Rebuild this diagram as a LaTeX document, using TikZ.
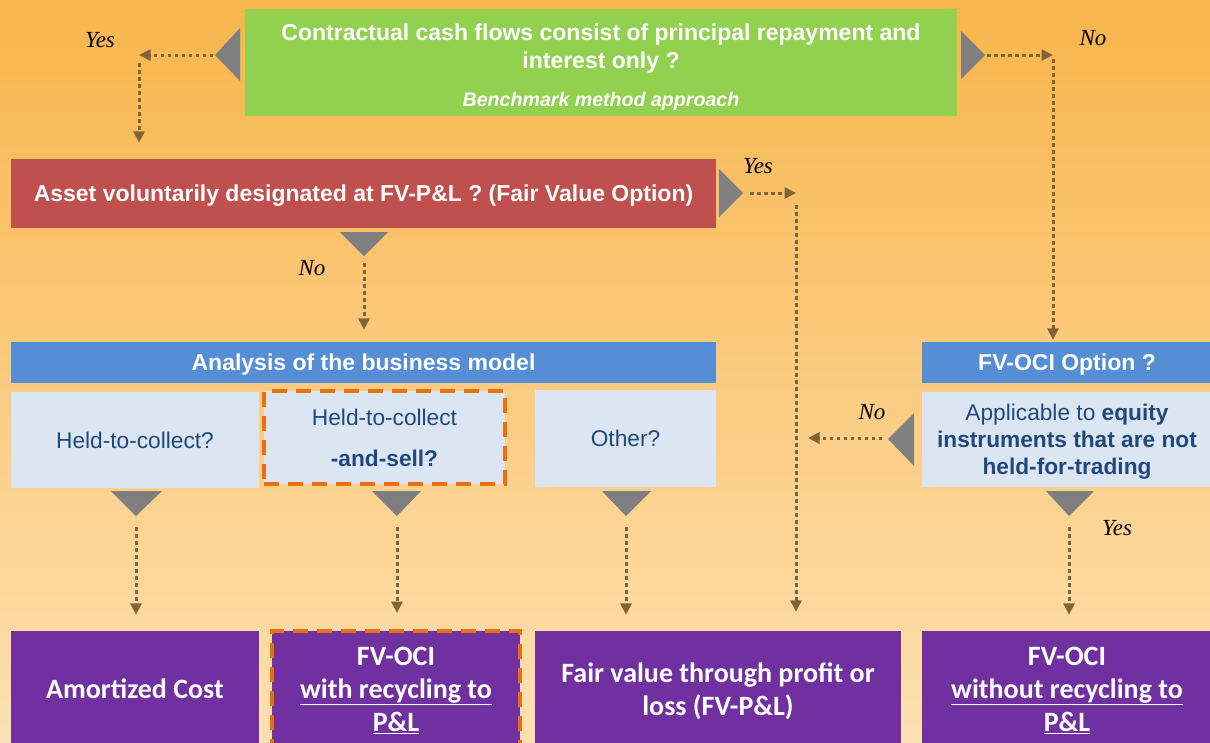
\documentclass[tikz,border=0pt]{standalone}
\usepackage{fontspec}
\setmainfont{Liberation Sans}
\newfontfamily\calibri{Carlito}
\newfontfamily\timesfont{Liberation Serif}
\usepackage{tikz}
\usetikzlibrary{shapes,arrows,arrows.meta}
\definecolor{bgtop}{HTML}{F8B54B}
\definecolor{bgbottom}{HTML}{FDE0B2}
\definecolor{leafgreen}{HTML}{92D050}
\definecolor{brickred}{HTML}{C0504D}
\definecolor{headblue}{HTML}{558ED5}
\definecolor{paleblue}{HTML}{DCE6F2}
\definecolor{navytext}{HTML}{1F497D}
\definecolor{deeppurple}{HTML}{7030A0}
\definecolor{hiorange}{HTML}{E8700F}
\definecolor{trigray}{HTML}{7F7F7F}
\definecolor{linkbrown}{HTML}{7F6438}
\tikzstyle{block} = [rectangle, inner sep=0pt, align=center, text=white, text depth=0pt, font=\fontsize{23}{28}\selectfont\bfseries]
\tikzstyle{head} = [block, fill=headblue, minimum height=41pt]
\tikzstyle{choice} = [rectangle, inner sep=0pt, align=center, fill=paleblue, text=navytext, text depth=0pt, font=\fontsize{22.7}{27}\selectfont]
\tikzstyle{result} = [rectangle, inner sep=0pt, align=center, fill=deeppurple, text=white, text depth=0pt, minimum height=116pt, font=\calibri\fontsize{28}{33}\selectfont\bfseries]
\tikzstyle{focus} = [draw=hiorange, line width=4pt, dash pattern=on 15pt off 9pt]
\tikzstyle{tri} = [fill=trigray]
\tikzstyle{line} = [draw=linkbrown, line width=3pt, dash pattern=on 3.5pt off 3.5pt, -{Triangle[length=11.5pt,width=11pt]}]
\tikzstyle{answer} = [inner sep=0pt, font=\timesfont\itshape\fontsize{23}{26}\selectfont]

\begin{document}
\begin{tikzpicture}[x=1pt, y=-1pt]
  \useasboundingbox (0,0) rectangle (1210,742);
  \clip (0,0) rectangle (1210,742);
  \shade[top color=bgtop, bottom color=bgbottom] (0,0) rectangle (1210,742);

  % questions
  \node [block, fill=leafgreen, minimum width=712pt, minimum height=107pt] (cashflow) at (601,62.5)
    {\rule{0pt}{21pt}Contractual cash flows consist of principal repayment and\\interest only ?\\[10pt]{\fontsize{19.6}{22}\selectfont\itshape Benchmark method approach}};
  \node [block, fill=brickred, minimum width=705pt, minimum height=69pt] (fvo) at (363.5,193.5)
    {Asset voluntarily designated at FV-P\&L ? (Fair Value Option)};

  % business model
  \node [head, minimum width=705pt] (bizmodel) at (363.5,362.5) {Analysis of the business model};
  \node [choice, minimum width=248pt, minimum height=96pt] (htc) at (135,440) {Held-to-collect?};
  \node [choice, focus, minimum width=241pt, minimum height=93pt] (htcs) at (384.5,437.5)
    {Held-to-collect\\[14pt]\textbf{-and-sell?}};
  \node [choice, minimum width=181pt, minimum height=97pt] (other) at (625.5,438.5) {Other?};

  % equity option
  \node [head, minimum width=290pt] (ocioption) at (1067,362.5) {FV-OCI Option ?};
  \node [choice, minimum width=290pt, minimum height=95pt] (equity) at (1067,439.5)
    {Applicable to \textbf{equity}\\\textbf{instruments that are not}\\\textbf{held-for-trading}};

  % outcomes
  \node [result, minimum width=248pt] (amort) at (135,689) {Amortized Cost};
  \node [result, focus, minimum width=248pt] (fvoci) at (396,689)
    {FV-OCI\\\underline{with recycling to}\\\underline{P\&L}};
  \node [result, minimum width=366pt] (fvpl) at (718,689) {Fair value through profit or\\loss (FV-P\&L)};
  \node [result, minimum width=290pt] (fvocinr) at (1067,689)
    {FV-OCI\\\underline{without recycling to}\\\underline{P\&L}};

  % pointers
  \fill [tri] (240,28) -- (215,55) -- (240,81) -- cycle;
  \fill [tri] (961,31) -- (985,55) -- (961,79) -- cycle;
  \fill [tri] (719,169) -- (743,193) -- (719,217) -- cycle;
  \fill [tri] (340,232) -- (364,256) -- (388,232) -- cycle;
  \fill [tri] (914,413) -- (888,439) -- (914,466) -- cycle;
  \fill [tri] (111,491) -- (136,516) -- (162,491) -- cycle;
  \fill [tri] (372,491) -- (397,516) -- (421,491) -- cycle;
  \fill [tri] (602,491) -- (626,516) -- (651,491) -- cycle;
  \fill [tri] (1046,491) -- (1069,516) -- (1094,491) -- cycle;

  \coordinate (cfL) at (213,55);
  \coordinate (cfYes) at (139,55);
  \coordinate (cfR) at (987,55);
  \coordinate (cfNo) at (1053,55);
  \coordinate (fvoR) at (750,193);
  \coordinate (fvoYes) at (796,193);
  \coordinate (fvoB) at (364,263);
  \coordinate (eqL) at (882,438);
  \coordinate (eqNo) at (808,438);
  \coordinate (tipA) at (136,527);
  \coordinate (tipB) at (397,527);
  \coordinate (tipC) at (626,527);
  \coordinate (tipD) at (1069,527);

  \path [line] (cfL) -- (cfYes);
  \path [line] ([yshift=-8pt]cfYes) -- ([yshift=16pt]cfYes |- fvo.north);
  \path [line] (cfR) -- (cfNo);
  \path [line] ([yshift=-4pt]cfNo) -- ([yshift=2pt]cfNo |- ocioption.north);
  \path [line] (fvoR) -- (fvoYes);
  \path [line] ([yshift=-12pt]fvoYes) -- ([yshift=19pt]fvoYes |- fvpl.north);
  \path [line] (fvoB) -- ([yshift=12pt]fvoB |- bizmodel.north);
  \path [line] (eqL) -- (eqNo);
  \path [line] (tipA) -- ([yshift=16pt]tipA |- amort.north);
  \path [line] (tipB) -- ([yshift=16pt]tipB |- fvoci.north);
  \path [line] (tipC) -- ([yshift=16pt]tipC |- fvpl.north);
  \path [line] (tipD) -- ([yshift=16pt]tipD |- fvocinr.north);

  % answers
  \node [answer] (ansYes1) at (100,40) {Yes};
  \node [answer] (ansNo1) at (1093,38) {No};
  \node [answer] (ansYes2) at (758,166) {Yes};
  \node [answer] (ansNo2) at (312,268) {No};
  \node [answer] (ansNo3) at (872,412) {No};
  \node [answer] (ansYes3) at (1117,528) {Yes};
\end{tikzpicture}
\end{document}
